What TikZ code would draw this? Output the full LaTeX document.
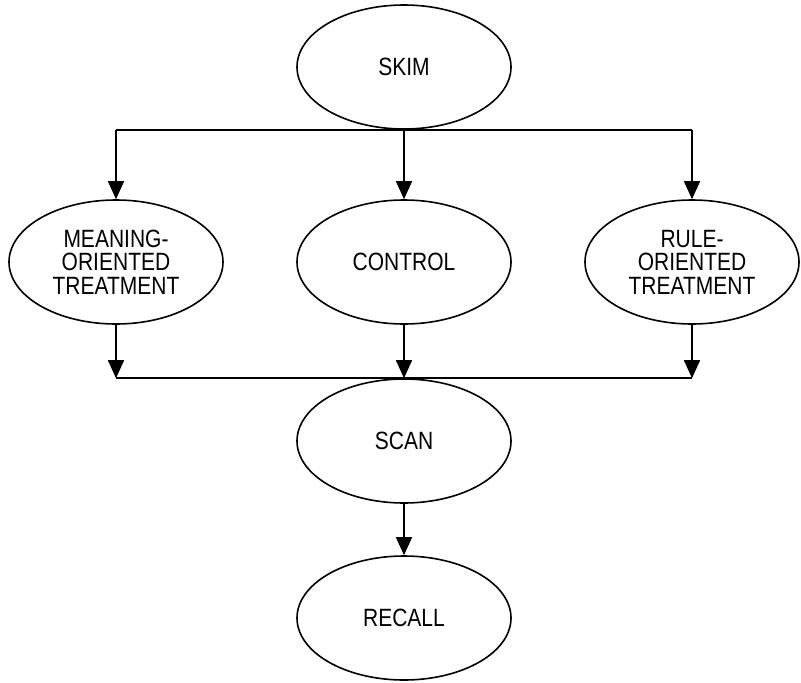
\documentclass[tikz,border=0pt]{standalone}
\usepackage{fontspec}
\setmainfont{Liberation Sans}[FakeStretch=0.84]
\usepackage{tikz}
\usetikzlibrary{shapes.geometric, arrows.meta}
\tikzset{%
  every stage/.style={
    ellipse,
    draw,
    line width=1.6pt,
    minimum width=214pt,
    minimum height=124pt,
    inner sep=0pt,
    align=center,
    font=\fontsize{25}{23.5}\selectfont
  },
}

\begin{document}
\begin{tikzpicture}[x=1pt, y=-1pt, line width=1.6pt, >={Triangle[length=18pt,width=16pt]}]
        \useasboundingbox (0,0) rectangle (801,683);

        \node [every stage] (skim) at (404,67) {SKIM};

        \foreach \m/\l [count=\i] in {meaning/{MEANING-\\ORIENTED\\TREATMENT}, control/CONTROL, rule/{RULE-\\ORIENTED\\TREATMENT}}
          \node [every stage] (\m) at (\i*288-172,262) {\l};

        \node [every stage] (scan) at (404,441) {SCAN};
        \node [every stage] (recall) at (404,618) {RECALL};

        % split after skim
        \draw (meaning.north |- skim.south) -- (rule.north |- skim.south);
        \foreach \m in {meaning, control, rule}
          \draw [->] (\m.north |- skim.south) -- (\m.north);

        % merge before scan
        \draw (meaning.south |- scan.north) -- (rule.south |- scan.north);
        \foreach \m in {meaning, control, rule}
          \draw [->] (\m.south) -- (\m.south |- scan.north);

        \draw [->] (scan) -- (recall);
\end{tikzpicture}
\end{document}
